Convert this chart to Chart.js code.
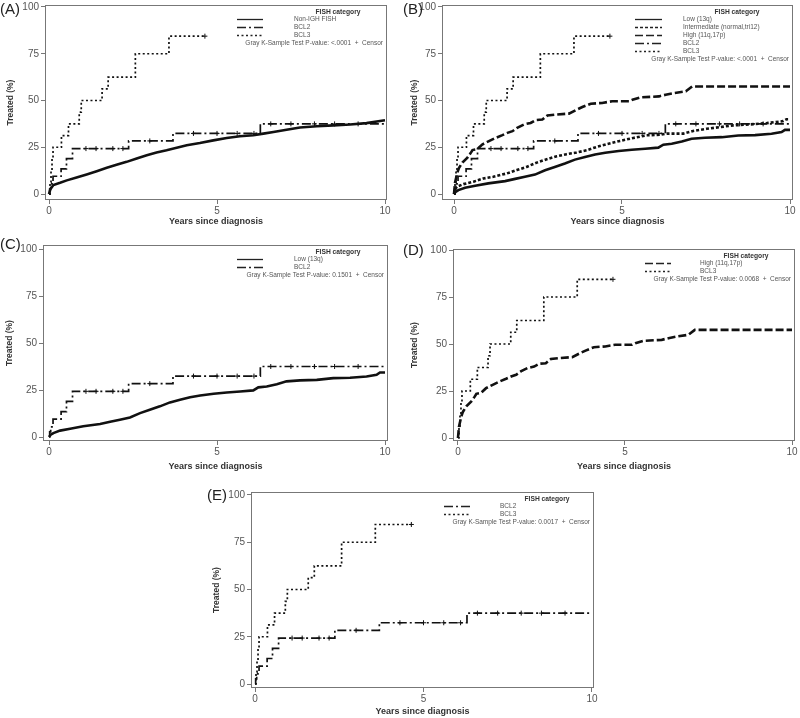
<!DOCTYPE html>
<html>
<head>
<meta charset="utf-8">
<script src="https://cdn.jsdelivr.net/npm/chart.js@4.4.1/dist/chart.umd.min.js"></script>
<style>
  body { margin: 0; background: #fff; }
  #wrap { position: relative; width: 800px; height: 718px; overflow: hidden; font-family: "Liberation Sans", Arial, sans-serif; }
  .pane { position: absolute; }
  .tag { position: absolute; font-size: 15px; line-height: 15px; color: #222; }
</style>
</head>
<body>
<div id="wrap"></div>
<script>
// axis ticks
const xTicks = [0, 5, 10];
const yTicks = [0, 25, 50, 75, 100];

// Non-IGH FISH (panel A)
const nonIghT = [0, 0.04, 0.13, 0.33, 0.53, 0.82, 1.12, 1.42, 1.72, 2.01, 2.31, 2.61, 2.91, 3.2, 3.5, 3.8, 4.1, 4.49, 4.89, 5.29, 5.68, 6.08, 6.38, 6.68, 7.07, 7.47, 7.97, 8.46, 8.96, 9.45, 9.85, 10];
const nonIghY = [0, 2.5, 4.8, 6.0, 7.3, 8.9, 10.5, 12.2, 14.0, 15.6, 17.2, 19.0, 20.7, 22.2, 23.4, 24.8, 26.1, 27.3, 28.7, 30.0, 30.9, 31.4, 32.3, 33.2, 34.4, 35.6, 36.2, 36.7, 37.2, 37.9, 39.0, 39.4];

// Low (13q)
const lowT = [0, 0.05, 0.13, 0.33, 0.63, 1.02, 1.52, 1.82, 2.11, 2.41, 2.71, 3.0, 3.3, 3.6, 3.9, 4.2, 4.5, 4.9, 5.29, 5.69, 6.08, 6.23, 6.48, 6.78, 7.07, 7.47, 7.97, 8.46, 8.96, 9.45, 9.75, 9.85, 10];
const lowY = [0, 1.2, 2.1, 3.4, 4.4, 5.7, 6.9, 8.1, 9.2, 10.4, 12.7, 14.5, 16.3, 18.4, 19.8, 21.1, 22.1, 23.0, 23.7, 24.2, 24.8, 26.4, 26.9, 28.1, 29.6, 30.1, 30.4, 31.3, 31.5, 32.2, 33.1, 34.3, 34.3];

// Intermediate (normal, tri12)
const interT = [0, 0.03, 0.08, 0.28, 0.58, 0.87, 1.17, 1.57, 1.87, 2.16, 2.46, 2.76, 3.06, 3.35, 3.65, 3.95, 4.25, 4.54, 4.94, 5.34, 5.73, 6.13, 6.33, 6.83, 7.12, 7.52, 7.92, 8.31, 8.81, 9.31, 9.8, 9.9, 10];
const interY = [0, 2.0, 3.9, 5.3, 6.6, 8.3, 9.2, 11.0, 12.8, 14.5, 16.8, 18.6, 20.2, 21.3, 22.2, 23.4, 25.2, 26.6, 28.4, 30.0, 31.4, 31.7, 32.3, 32.3, 33.7, 34.9, 35.8, 36.7, 37.2, 37.9, 39.0, 40.0, 40.0];

// High (11q, 17p)
const highT = [0, 0.03, 0.1, 0.15, 0.25, 0.4, 0.5, 0.55, 0.69, 0.84, 1.04, 1.24, 1.44, 1.59, 1.74, 1.88, 2.08, 2.28, 2.43, 2.63, 2.78, 3.03, 3.42, 3.62, 3.82, 4.07, 4.41, 4.71, 5.21, 5.31, 5.56, 6.1, 6.3, 6.55, 6.9, 7.09, 10];
const highY = [0, 6, 11.5, 14, 16.8, 19.5, 22, 23.5, 24, 26.5, 28.3, 30, 31.5, 32.7, 33.6, 35.4, 37.2, 38, 39.5, 39.8, 42, 42.5, 43, 44.8, 46.5, 48.3, 48.7, 49.6, 49.6, 50.4, 51.7, 52.2, 53.1, 54, 54.9, 57.5, 57.5];

// BCL2
const bcl2T = [0, 0.02, 0.05, 0.12, 0.36, 0.52, 0.7, 2.37, 3.69, 6.29, 10];
const bcl2Y = [0, 2.7, 5.4, 9.5, 13.5, 18.9, 24.3, 28.4, 32.4, 37.5, 37.5];
const bcl2CensT = [1.1, 1.4, 1.9, 2.2, 3.0, 4.3, 5.0, 5.6, 6.1, 6.6, 7.2, 7.9, 8.5, 9.2];
const bcl2CensY = [24.3, 24.3, 24.3, 24.3, 28.4, 32.4, 32.4, 32.4, 32.4, 37.5, 37.5, 37.5, 37.5, 37.5];

// BCL3
const bcl3T = [0, 0.03, 0.06, 0.09, 0.12, 0.37, 0.58, 0.9, 0.96, 1.58, 1.76, 2.57, 3.57, 4.64];
const bcl3Y = [0, 6.25, 12.5, 18.75, 25, 31.25, 37.5, 43.75, 50, 56.25, 62.5, 75, 84.4, 84.4];
const bcl3CensT = [4.64];
const bcl3CensY = [84.4];

// big cohorts have many tiny steps, so they are drawn as plain lines
const curves = {
  nonIgh: { t: nonIghT, y: nonIghY, label: 'Non-IGH FISH', dash: [], width: 2.6, step: false },
  low:    { t: lowT, y: lowY, label: 'Low (13q)', dash: [], width: 2.6, step: false },
  inter:  { t: interT, y: interY, label: 'Intermediate (normal,tri12)', dash: [3, 2], width: 2.6, step: false },
  high:   { t: highT, y: highY, label: 'High (11q,17p)', dash: [8, 3], width: 2.6, step: false },
  bcl2:   { t: bcl2T, y: bcl2Y, cT: bcl2CensT, cY: bcl2CensY, label: 'BCL2', dash: [9, 3, 2, 3], width: 1.7, step: true },
  bcl3:   { t: bcl3T, y: bcl3Y, cT: bcl3CensT, cY: bcl3CensY, label: 'BCL3', dash: [2, 2.5], width: 1.7, step: true }
};

// box = canvas [left, top, w, h]; area = plot frame [l, t, r, b]; px = [x0, x10, y0, y100]
const panels = [
  { tag: '(A)', tagPos: [0, 1], box: [0, 0, 400, 230], area: [45, 4, 387, 200], px: [49, 385, 194, 6],
    curves: ['nonIgh', 'bcl2', 'bcl3'], pval: '<.0001', key: [150, 124, 93, 49], yTitleX: 11, xTitleY: 222 },
  { tag: '(B)', tagPos: [403, 1], box: [400, 0, 400, 230], area: [442, 4, 793, 200], px: [454, 790, 194, 6],
    curves: ['low', 'inter', 'high', 'bcl2', 'bcl3'], pval: '<.0001', key: [158, 131, 110, 56], yTitleX: 415, xTitleY: 222 },
  { tag: '(C)', tagPos: [0, 236], box: [0, 230, 400, 250], area: [43, 245, 388, 441], px: [49, 385, 437, 249],
    curves: ['low', 'bcl2'], pval: '0.1501', key: [151, 125, 94, 50], yTitleX: 10, xTitleY: 467 },
  { tag: '(D)', tagPos: [403, 242], box: [400, 230, 400, 250], area: [453, 249, 797, 441], px: [458, 794, 438, 250],
    curves: ['high', 'bcl3'], pval: '0.0068', key: [150, 124, 95, 49], yTitleX: 415, xTitleY: 467 },
  { tag: '(E)', tagPos: [207, 487], box: [190, 480, 420, 238], area: [251, 492, 594, 688], px: [255, 592, 684, 495],
    curves: ['bcl2', 'bcl3'], pval: '0.0017', key: [150, 124, 94, 47], yTitleX: 217, xTitleY: 712 }
];

const FONT = '"Liberation Sans", Arial, sans-serif';

// frame round the plot area and the SAS-style key
const frameAndKey = {
  id: 'frameAndKey',
  afterDatasetsDraw(chart, args, opts) {
    const p = opts.panel;
    const ctx = chart.ctx, a = chart.chartArea;
    ctx.save();
    ctx.strokeStyle = '#777';
    ctx.lineWidth = 1;
    ctx.strokeRect(a.left + 0.5, a.top + 0.5, a.right - a.left - 1, a.bottom - a.top - 1);

    ctx.textBaseline = 'middle';
    ctx.fillStyle = '#333';
    ctx.textAlign = 'center';
    ctx.font = 'bold 6.7px ' + FONT;
    ctx.fillText('FISH category', a.right - p.key[3], a.top + 7);

    ctx.font = '6.5px ' + FONT;
    ctx.fillStyle = '#555';
    ctx.textAlign = 'left';
    p.curves.forEach((k, i) => {
      const s = curves[k];
      const y = Math.round(a.top + 14 + i * 8) + 0.5;
      ctx.strokeStyle = '#222';
      ctx.lineWidth = 1.3;
      ctx.setLineDash(s.dash);
      ctx.beginPath();
      ctx.moveTo(a.right - p.key[0], y);
      ctx.lineTo(a.right - p.key[1], y);
      ctx.stroke();
      ctx.setLineDash([]);
      ctx.fillText(s.label, a.right - p.key[2], y);
    });
    ctx.textAlign = 'right';
    ctx.fillText('Gray K-Sample Test P-value: ' + p.pval + '  +  Censor', a.right - 4, a.top + 14 + p.curves.length * 8);
    ctx.restore();
  }
};

const wrap = document.getElementById('wrap');

panels.forEach(p => {
  const [bl, bt, bw, bh] = p.box;
  const [al, at, ar, ab] = p.area;
  const [x0, x10, y0, y100] = p.px;
  const kx = (x10 - x0) / 10, ky = (y0 - y100) / 100;

  const div = document.createElement('div');
  div.className = 'pane';
  div.style.left = bl + 'px';
  div.style.top = bt + 'px';
  const cv = document.createElement('canvas');
  cv.width = bw;
  cv.height = bh;
  div.appendChild(cv);
  wrap.appendChild(div);

  const lab = document.createElement('div');
  lab.className = 'tag';
  lab.textContent = p.tag;
  lab.style.left = p.tagPos[0] + 'px';
  lab.style.top = p.tagPos[1] + 'px';
  wrap.appendChild(lab);

  const datasets = [];
  p.curves.forEach(k => {
    const s = curves[k];
    datasets.push({
      label: s.label,
      data: s.t.map((t, i) => ({ x: t, y: s.y[i] })),
      borderColor: '#111',
      borderWidth: s.width,
      borderDash: s.dash,
      stepped: s.step,
      tension: 0,
      pointRadius: 0,
      fill: false
    });
    if (s.cT) {
      datasets.push({
        label: s.label + ' censor',
        data: s.cT.map((t, i) => ({ x: t, y: s.cY[i] })),
        showLine: false,
        pointStyle: 'cross',
        pointRadius: 2.5,
        borderColor: '#111',
        borderWidth: 1
      });
    }
  });

  new Chart(cv, {
    type: 'line',
    data: { datasets: datasets },
    plugins: [frameAndKey],
    options: {
      responsive: false,
      animation: false,
      layout: { padding: { top: at - bt, right: bl + bw - ar, left: 0, bottom: 0 } },
      plugins: {
        legend: { display: false },
        tooltip: { enabled: false },
        frameAndKey: { panel: p }
      },
      scales: {
        x: {
          type: 'linear',
          min: -(x0 - al) / kx,
          max: 10 + (ar - x10) / kx,
          afterBuildTicks: s => { s.ticks = xTicks.map(v => ({ value: v })); },
          afterFit: s => {
            s.height = bt + bh - ab;
            s.paddingLeft = 0; s.paddingRight = 0;
          },
          border: { display: false },
          grid: { drawOnChartArea: false, tickLength: 4, color: '#777' },
          ticks: { font: { size: 10, family: FONT }, color: '#555', padding: 1, maxRotation: 0 },
          title: {
            display: true, text: 'Years since diagnosis', color: '#333',
            font: { size: 9, weight: 'bold', family: FONT },
            padding: { top: 0, bottom: Math.max(0, bt + bh - p.xTitleY - 5) }
          }
        },
        y: {
          type: 'linear',
          min: -(ab - y0) / ky,
          max: 100 + (y100 - at) / ky,
          afterBuildTicks: s => { s.ticks = yTicks.map(v => ({ value: v })); },
          afterFit: s => {
            s.width = al - bl;
            s.paddingTop = 0; s.paddingBottom = 0;
          },
          border: { display: false },
          grid: { drawOnChartArea: false, tickLength: 4, color: '#777' },
          ticks: { font: { size: 10, family: FONT }, color: '#555', padding: 2 },
          title: {
            display: true, text: 'Treated (%)', color: '#333',
            font: { size: 8.5, weight: 'bold', family: FONT },
            padding: { top: Math.max(0, p.yTitleX - bl - 5), bottom: 0 }
          }
        }
      }
    }
  });
});
</script>
</body>
</html>
